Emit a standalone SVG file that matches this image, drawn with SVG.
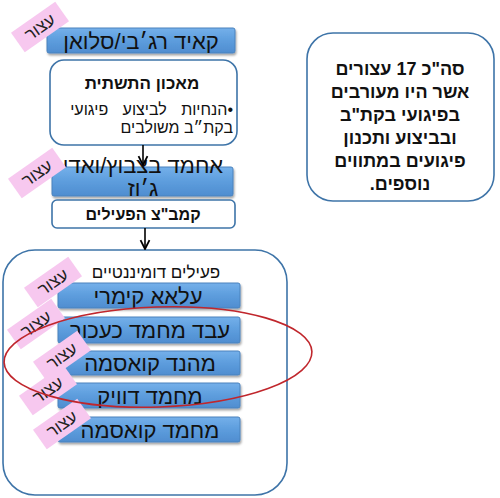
<svg xmlns="http://www.w3.org/2000/svg" width="500" height="498" viewBox="0 0 500 498">
<defs>
<linearGradient id="blueg" x1="0" y1="0" x2="0" y2="1">
<stop offset="0" stop-color="#74b0ea"/>
<stop offset="0.5" stop-color="#5d9ddd"/>
<stop offset="1" stop-color="#4f8dd0"/>
</linearGradient>
<filter id="sh" x="-5%" y="-20%" width="110%" height="150%">
<feDropShadow dx="1" dy="2" stdDeviation="1" flood-color="#000" flood-opacity="0.35"/>
</filter>
<marker id="ah" viewBox="0 0 10 10" refX="9" refY="5" markerWidth="7" markerHeight="7" orient="auto">
<path d="M1,1 L9,5 L1,9" fill="none" stroke="#000" stroke-width="1.6"/>
</marker>
</defs>
<style>
text{font-family:"Liberation Sans","DejaVu Sans",sans-serif;fill:#111;}
.bar{fill:url(#blueg);stroke:#4a82bd;stroke-width:1;filter:url(#sh);}
.bt{font-size:22px;text-anchor:middle;}
.frame{fill:#fff;stroke:#3e74a8;stroke-width:1.6;}
.tag{fill:#f7c8ef;}
.tt{font-size:17px;text-anchor:middle;fill:#222;}
.rt{font-size:18px;font-weight:bold;text-anchor:middle;}
</style>

<g id="container">
<rect class="frame" x="3" y="250" width="284" height="245" rx="32"/>
<text x="156" y="278" direction="rtl" style="font-size:17px;text-anchor:middle">פעילים דומיננטיים</text>
</g>

<g id="summary">
<rect class="frame" x="307" y="33" width="187" height="168" rx="26"/>
<text class="rt" x="400" y="75" direction="rtl">סה"כ 17 עצורים</text>
<text class="rt" x="400" y="98" direction="rtl">אשר היו מעורבים</text>
<text class="rt" x="400" y="121" direction="rtl">בפיגועי בקת"ב</text>
<text class="rt" x="400" y="144" direction="rtl">ובביצוע ותכנון</text>
<text class="rt" x="400" y="167" direction="rtl">פיגועים במתווים</text>
<text class="rt" x="400" y="190" direction="rtl">נוספים.</text>
</g>

<g id="n1">
<rect class="bar" x="47" y="28" width="188" height="25" rx="2"/>
<text class="bt" x="141" y="49" direction="rtl">קאיד רג׳בי/סלואן</text>
</g>

<g id="n2">
<rect class="frame" x="50" y="60" width="187" height="85" rx="14"/>
<text x="142" y="89" direction="rtl" style="font-size:17px;font-weight:bold;text-anchor:middle">מאכון התשתית</text>
<text x="233" y="115" direction="rtl" style="font-size:16px;word-spacing:10px">•הנחיות לביצוע פיגועי</text>
<text x="233" y="133" direction="rtl" style="font-size:16px">בקת״ב משולבים</text>
</g>

<g id="n3">
<rect class="bar" x="52" y="167" width="181" height="29" rx="2"/>
<text class="bt" x="143" y="173" direction="rtl">אחמד בצבוץ/ואדי</text>
<text class="bt" x="143" y="196" direction="rtl">ג׳וז</text>
</g>

<g id="n4">
<rect class="frame" x="52" y="200" width="183" height="28" rx="5"/>
<text x="143" y="220" direction="rtl" style="font-size:16px;font-weight:bold;text-anchor:middle">קמב"צ הפעילים</text>
</g>

<g id="b1">
<rect class="bar" x="58" y="283" width="182" height="25" rx="2"/>
<text class="bt" x="148" y="304" direction="rtl">עלאא קימרי</text>
</g>
<g id="b2">
<rect class="bar" x="58" y="317" width="182" height="26" rx="2"/>
<text class="bt" x="150" y="338" direction="rtl">עבד מחמד כעכור</text>
</g>
<g id="b3">
<rect class="bar" x="58" y="351" width="182" height="24" rx="2"/>
<text class="bt" x="150" y="371" direction="rtl">מהנד קואסמה</text>
</g>
<g id="b4">
<rect class="bar" x="58" y="383" width="182" height="25" rx="2"/>
<text class="bt" x="150" y="404" direction="rtl">מחמד דוויק</text>
</g>
<g id="b5">
<rect class="bar" x="58" y="417" width="182" height="25" rx="2"/>
<text class="bt" x="150" y="438" direction="rtl">מחמד קואסמה</text>
</g>

<g id="tags">
<g transform="translate(40,27) rotate(-35)"><rect class="tag" x="-27" y="-12" width="54" height="24"/><text class="tt" x="0" y="6" direction="rtl">עצור</text></g>
<g transform="translate(37,173) rotate(-35)"><rect class="tag" x="-27" y="-12" width="54" height="24"/><text class="tt" x="0" y="6" direction="rtl">עצור</text></g>
<g transform="translate(53,282) rotate(-35)"><rect class="tag" x="-27" y="-12" width="54" height="24"/><text class="tt" x="0" y="6" direction="rtl">עצור</text></g>
<g transform="translate(36,324) rotate(-35)"><rect class="tag" x="-27" y="-12" width="54" height="24"/><text class="tt" x="0" y="6" direction="rtl">עצור</text></g>
<g transform="translate(62,356) rotate(-35)"><rect class="tag" x="-27" y="-12" width="54" height="24"/><text class="tt" x="0" y="6" direction="rtl">עצור</text></g>
<g transform="translate(48,390) rotate(-35)"><rect class="tag" x="-27" y="-12" width="54" height="24"/><text class="tt" x="0" y="6" direction="rtl">עצור</text></g>
<g transform="translate(62,424) rotate(-35)"><rect class="tag" x="-27" y="-12" width="54" height="24"/><text class="tt" x="0" y="6" direction="rtl">עצור</text></g>
</g>

<g id="connectors">
<line x1="143" y1="145" x2="143" y2="165" stroke="#000" stroke-width="1.6" marker-end="url(#ah)"/>
<line x1="145" y1="228" x2="145" y2="249" stroke="#000" stroke-width="1.6" marker-end="url(#ah)"/>
</g>

<ellipse cx="158" cy="357" rx="154" ry="50" transform="rotate(-2 158 357)" fill="none" stroke="#c0262c" stroke-width="1.6"/>
</svg>
